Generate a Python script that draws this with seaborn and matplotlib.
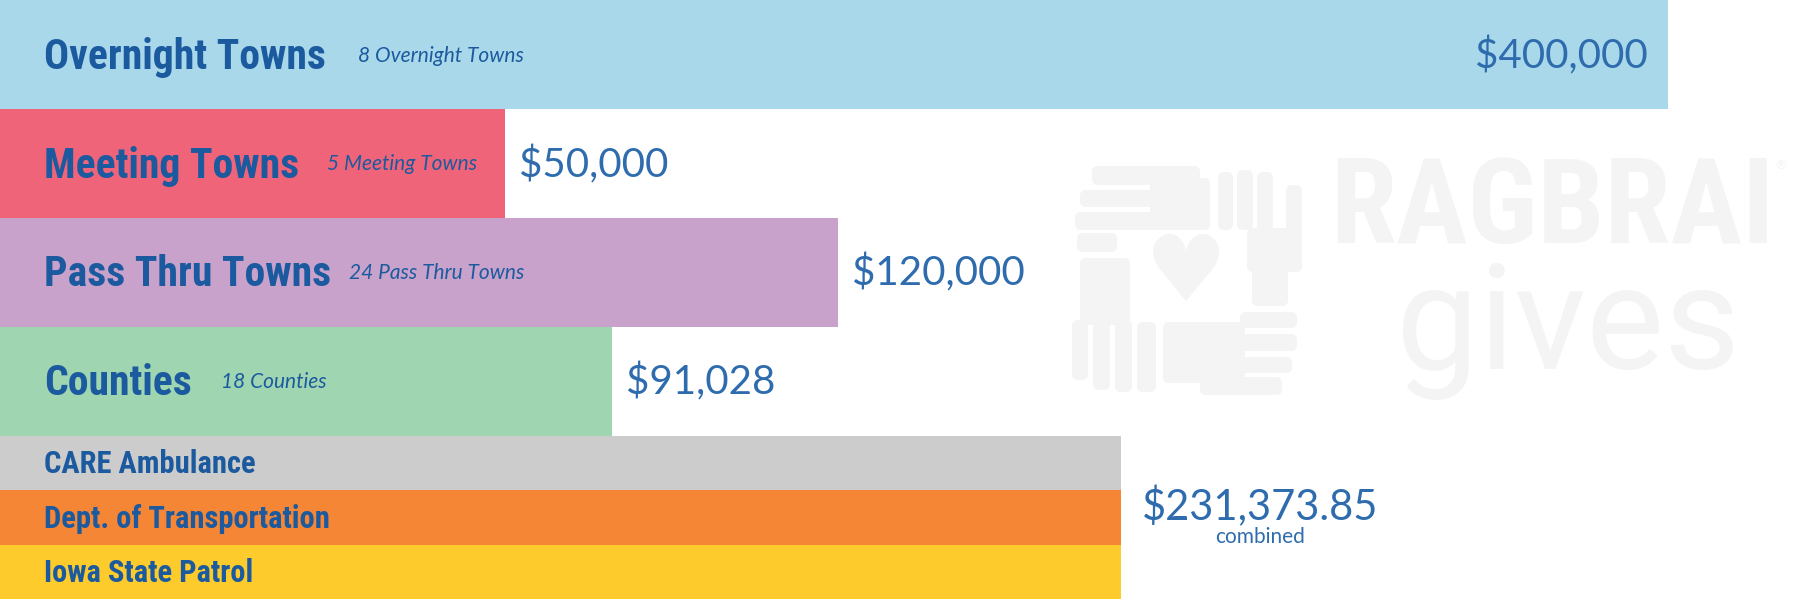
import matplotlib
matplotlib.use("Agg")
import matplotlib.pyplot as plt
from matplotlib import font_manager
from matplotlib.patches import FancyBboxPatch
import seaborn as sns

# main recipients
groups = ["Overnight Towns", "Meeting Towns", "Pass Thru Towns", "Counties"]
group_notes = ["8 Overnight Towns", "5 Meeting Towns", "24 Pass Thru Towns", "18 Counties"]
group_amounts = ["$400,000", "$50,000", "$120,000", "$91,028"]
# bars are not drawn to scale, lengths read off the picture (px of a 1798 px wide chart)
group_bar = [1668, 505, 838, 612]

# agencies sharing one amount
agencies = ["CARE Ambulance", "Dept. of Transportation", "Iowa State Patrol"]
agency_bar = [1121, 1121, 1121]
agency_amount = "$231,373.85"
agency_note = "combined"

group_colors = ["#a8d8ea", "#f06479", "#c8a2cb", "#9fd5b1"]
agency_colors = ["#cccccc", "#f48635", "#fecb2c"]

sns.set_theme(style="white")
names = {f.name for f in font_manager.fontManager.ttflist}
if "Roboto Condensed" in names:
    bold_font, big_size, small_size = "Roboto Condensed", 30, 22
else:
    bold_font, big_size, small_size = "Roboto", 26, 19
plt.rcParams["font.family"] = ["Lato", "DejaVu Sans"]

dark = "#1b5a9e"
blue = "#2e6cae"
wm = "#f4f4f4"

fig = plt.figure(figsize=(17.98, 5.99), dpi=100)

# logo layer, pixel coords, sits under the bars
logo = fig.add_axes([0, 0, 1, 1], zorder=0)
logo.set_xlim(0, 1798)
logo.set_ylim(599, 0)
logo.set_axis_off()

def blob(x0, y0, x1, y1, r=6):
    logo.add_patch(FancyBboxPatch((x0, y0), x1 - x0, y1 - y0,
                                  boxstyle=f"round,pad=0,rounding_size={r}",
                                  fc=wm, ec="none"))

# four hands round a heart (rough)
for b in [(1092, 166, 1200, 185), (1080, 190, 1200, 207), (1075, 212, 1210, 230),
          (1077, 233, 1117, 252), (1150, 178, 1210, 230)]:
    blob(*b)
for b in [(1218, 172, 1233, 230), (1237, 170, 1253, 230), (1257, 172, 1273, 232),
          (1286, 185, 1302, 250), (1247, 228, 1302, 272), (1252, 262, 1288, 306)]:
    blob(*b)
for b in [(1080, 258, 1130, 325), (1072, 320, 1088, 380), (1093, 320, 1110, 390),
          (1115, 320, 1132, 392), (1137, 322, 1156, 392)]:
    blob(*b)
for b in [(1163, 322, 1245, 383), (1240, 312, 1297, 328), (1240, 334, 1297, 351),
          (1240, 357, 1292, 373), (1200, 377, 1282, 395)]:
    blob(*b)
logo.text(1186, 275, "\u2665", family="DejaVu Sans", fontsize=66,
          color=wm, ha="center", va="center")
logo.text(1330, 243, "RAGBRAI", family=bold_font, weight="bold", fontsize=86,
          color=wm, ha="left", va="baseline")
logo.text(1774, 166, "\u00ae", family="DejaVu Sans", fontsize=9,
          color=wm, ha="left", va="center")
logo.text(1396, 369, "gives", family="Roboto", fontsize=106,
          color=wm, ha="left", va="baseline")

ax = fig.add_axes([0, 0, 1, 1], zorder=1)

group_pos = [0, 1, 2, 3]
agency_pos = [3.75, 4.25, 4.75]

sns.barplot(x=group_bar, y=group_pos, hue=groups, orient="h", native_scale=True,
            palette=dict(zip(groups, group_colors)), width=1, linewidth=0,
            saturation=1, legend=False, ax=ax)
sns.barplot(x=agency_bar, y=agency_pos, hue=agencies, orient="h", native_scale=True,
            palette=dict(zip(agencies, agency_colors)), width=1, linewidth=0,
            saturation=1, legend=False, ax=ax)

ax.set_xlim(0, 1798)
ax.set_ylim(5.0, -0.5)
ax.set_axis_off()

note_x = [358, 327, 349, 221]
for i, pos in enumerate(group_pos):
    ax.text(44, pos + 0.13, groups[i], family=bold_font, weight="bold",
            fontsize=big_size, color=dark, ha="left", va="baseline", zorder=3)
    ax.text(note_x[i], pos + 0.065, group_notes[i], style="italic", fontsize=15,
            color=dark, ha="left", va="baseline", zorder=3)
    if i == 0:
        ax.text(group_bar[i] - 20, pos + 0.125, group_amounts[i], fontsize=29,
                color=blue, ha="right", va="baseline", zorder=3)
    else:
        ax.text(group_bar[i] + 14, pos + 0.125, group_amounts[i], fontsize=29,
                color=blue, ha="left", va="baseline", zorder=3)

for i, pos in enumerate(agency_pos):
    ax.text(44, pos + 0.095, agencies[i], family=bold_font, weight="bold",
            fontsize=small_size, color=dark, ha="left", va="baseline", zorder=3)

ax.text(1260, 4.28, agency_amount, fontsize=30, color=blue,
        ha="center", va="baseline", zorder=3)
ax.text(1260, 4.49, agency_note, fontsize=15, color=blue,
        ha="center", va="baseline", zorder=3)

fig.savefig("out.png", dpi=100)
